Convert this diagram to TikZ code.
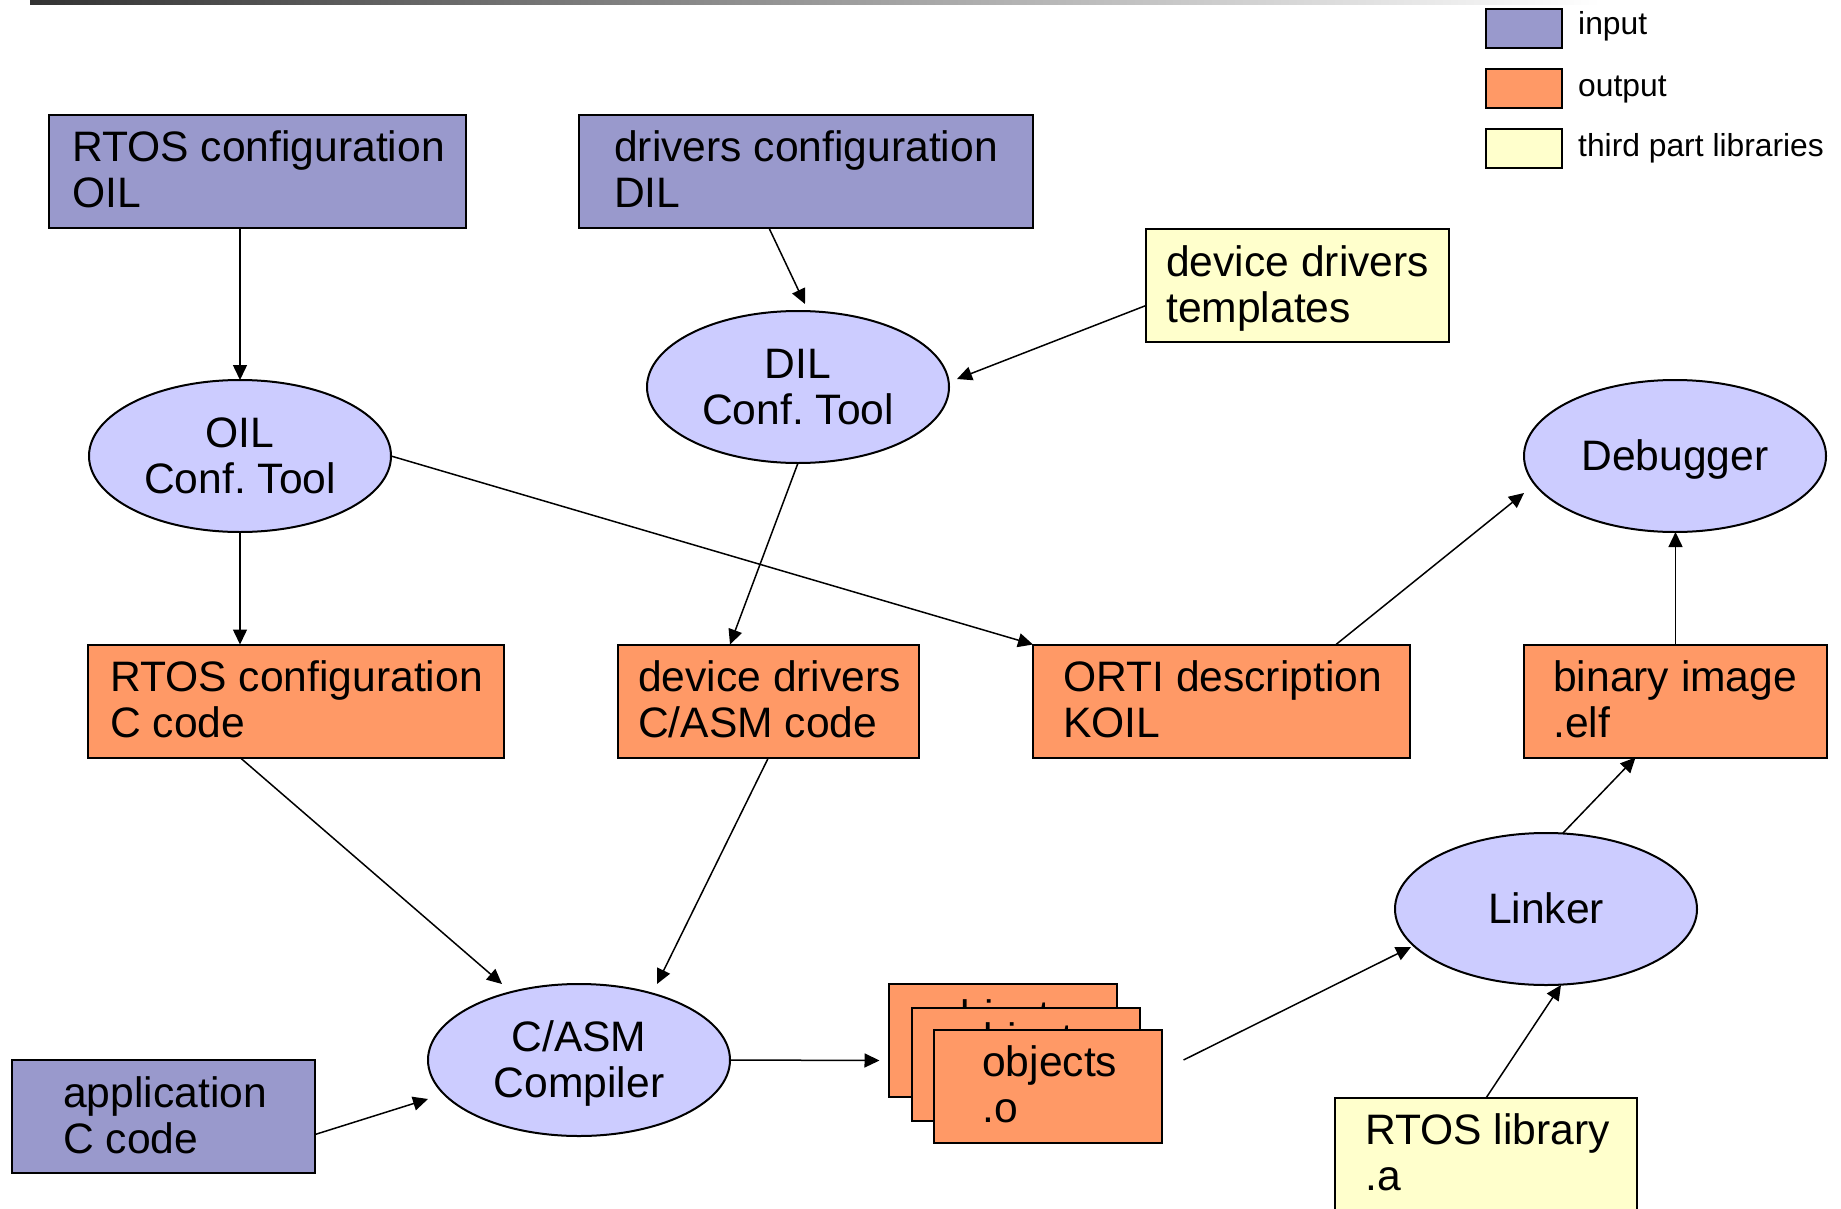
\documentclass[tikz,border=0pt]{standalone}
\usepackage{fontspec}
\setmainfont{Liberation Sans}
\usetikzlibrary{shapes.geometric,arrows.meta,calc}
\frenchspacing

\definecolor{inblue}{HTML}{9999CC}
\definecolor{outorange}{HTML}{FF9966}
\definecolor{libyellow}{HTML}{FFFFCC}
\definecolor{toolblue}{HTML}{CCCCFF}

% two-line labels whose baseline is the baseline of the first line
\newcommand\twoleft[2]{\vtop{\halign{##\hfil\cr#1\cr#2\cr}}}
\newcommand\twocenter[2]{\vtop{\halign{\hfil##\hfil\cr#1\cr#2\cr}}}
\newcommand\mainfs{\fontsize{42.6}{46}\selectfont}
\newcommand\legendfs{\fontsize{31.8}{34}\selectfont}

\tikzset{
  boxbase/.style={draw, line width=2pt, inner sep=0pt, outer sep=0pt,
    minimum height=113pt},
  inbox/.style={boxbase, fill=inblue},
  outbox/.style={boxbase, fill=outorange},
  libbox/.style={boxbase, fill=libyellow},
  tool/.style={ellipse, draw, line width=2pt, fill=toolblue, inner sep=0pt,
    outer sep=0pt, minimum width=302pt, minimum height=152pt},
  boxtext/.style={anchor=base west, inner sep=0pt, font=\mainfs},
  tooltext/.style={anchor=base, inner sep=0pt, font=\mainfs},
  legendbox/.style={draw, line width=2pt, inner sep=0pt, minimum width=76pt,
    minimum height=39pt},
  legendtext/.style={anchor=base west, inner sep=0pt, font=\legendfs},
  flow/.style={line width=1.5pt, -{Triangle[length=15pt,width=14pt]}},
}

\begin{document}
\begin{tikzpicture}[x=1pt,y=-1pt]
\useasboundingbox (0,0) rectangle (1841,1209);

% header rule
\shade[left color=black!80, right color=white] (30,0) rectangle (1600,5);

% legend
\node[legendbox, fill=inblue] (lgin) at (1524,28.5) {};
\node[legendbox, fill=outorange] (lgout) at (1524,88.5) {};
\node[legendbox, fill=libyellow] (lglib) at (1524,149) {};
\node[legendtext] (lgintxt) at (1578,35) {input};
\node[legendtext] (lgouttxt) at (1578,97) {output};
\node[legendtext] (lglibtxt) at (1578,157) {third part libraries};

% inputs
\node[inbox, minimum width=417pt] (oilcfg) at (257.5,171.5) {};
\node[boxtext] (oilcfgt) at ($(oilcfg.north west)+(23,47)$) {\twoleft{RTOS configuration}{OIL}};
\node[inbox, minimum width=454pt] (dilcfg) at (806,171.5) {};
\node[boxtext] (dilcfgt) at ($(dilcfg.north west)+(35,47)$) {\twoleft{drivers configuration}{DIL}};
\node[inbox, minimum width=303pt] (app) at (163.5,1116.5) {};
\node[boxtext] (appt) at ($(app.north west)+(51,47)$) {\twoleft{application}{C code}};

% third party libraries
\node[libbox, minimum width=303pt] (templates) at (1297.5,285.5) {};
\node[boxtext] (templatest) at ($(templates.north west)+(20,47)$) {\twoleft{device drivers}{templates}};
\node[libbox, minimum width=302pt] (rtoslib) at (1486,1154.5) {};
\node[boxtext] (rtoslibt) at ($(rtoslib.north west)+(30,46)$) {\twoleft{RTOS library}{.a}};

% tools
\node[tool] (oiltool) at (240,456) {};
\node[tooltext] (oiltoolt) at ($(oiltool.center)+(0,-9)$) {\twocenter{OIL}{Conf. Tool}};
\node[tool] (diltool) at (798,387) {};
\node[tooltext] (diltoolt) at ($(diltool.center)+(0,-9)$) {\twocenter{DIL}{Conf. Tool}};
\node[tool] (debugger) at (1675,456) {};
\node[tooltext] (debuggert) at ($(debugger.center)+(0,14)$) {Debugger};
\node[tool] (compiler) at (579,1060) {};
\node[tooltext] (compilert) at ($(compiler.center)+(0,-9)$) {\twocenter{C/ASM}{Compiler}};
\node[tool] (linker) at (1546,909) {};
\node[tooltext] (linkert) at ($(linker.center)+(0,14)$) {Linker};

% outputs
\node[outbox, minimum width=416pt] (ccode) at (296,701) {};
\node[boxtext] (ccodet) at ($(ccode.north west)+(22,47)$) {\twoleft{RTOS configuration}{C code}};
\node[outbox, minimum width=301pt] (drvcode) at (768.5,701) {};
\node[boxtext] (drvcodet) at ($(drvcode.north west)+(20,47)$) {\twoleft{device drivers}{C/ASM code}};
\node[outbox, minimum width=377pt] (orti) at (1221.5,701) {};
\node[boxtext] (ortit) at ($(orti.north west)+(30,47)$) {\twoleft{ORTI description}{KOIL}};
\node[outbox, minimum width=303pt] (binary) at (1675.5,701) {};
\node[boxtext] (binaryt) at ($(binary.north west)+(29,47)$) {\twoleft{binary image}{.elf}};

% stack of object files, each sheet partly hidden by the next
\node[outbox, minimum width=228pt] (objback) at (1002.5,1040.5) {};
\node[boxtext] (objbackt) at ($(objback.north west)+(48,46)$) {\twoleft{objects}{.o}};
\node[outbox, minimum width=228pt] (objmid) at (1025.5,1064) {};
\node[boxtext] (objmidt) at ($(objmid.north west)+(48,46)$) {\twoleft{objects}{.o}};
\node[outbox, minimum width=228pt] (objfront) at (1048,1086.5) {};
\node[boxtext] (objfrontt) at ($(objfront.north west)+(48,46)$) {\twoleft{objects}{.o}};

% data flow
\draw[flow] (oilcfg.south -| oiltool.north) -- (oiltool.north);
\draw[flow] ($(dilcfg.south)+(-37,0)$) -- ($(diltool.north)+(7,-7)$);
\draw[flow] ($(templates.west)+(0,20)$) -- ($(diltool.east)+(8,-8)$);
\draw[flow] (oiltool.south) -- (oiltool.south |- ccode.north);
\draw[flow] (oiltool.east) -- (orti.north west);
\draw[flow] (diltool.south) -- ($(drvcode.north west)+(112,0)$);
\draw[flow] ($(orti.north west)+(303,0)$) -- ($(debugger.west)+(0,37)$);
\draw[flow] (binary.north) -- (binary.north |- debugger.south);
\draw[flow] (ccode.south -| oiltool.south) -- ($(compiler.north)+(-77,0)$);
\draw[flow] (drvcode.south) -- ($(compiler.north)+(78,0)$);
\draw[flow] ($(app.east)+(0,18)$) -- ($(compiler.west)+(0,39)$);
\draw[flow] (compiler.east) -- ($(objback.west)+(-9,20)$);
\draw[flow] ($(objmid.east)+(44,-4)$) -- ($(linker.west)+(16,38)$);
\draw[flow] ($(linker.north)+(17,0)$) -- ($(binary.south)+(-40,0)$);
\draw[flow] (rtoslib.north) -- ($(linker.south)+(15,0)$);
\end{tikzpicture}
\end{document}
